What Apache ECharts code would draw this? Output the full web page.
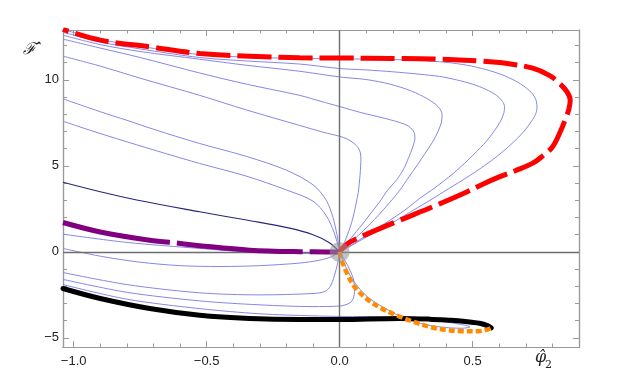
<!DOCTYPE html>
<html><head><meta charset="utf-8">
<script src="https://cdn.jsdelivr.net/npm/echarts@6/dist/echarts.min.js"></script>
<style>html,body{margin:0;padding:0;background:#fff}#c{width:636px;height:385px}</style>
</head><body><div id="c"></div>
<script>
// ---------- axis ranges and ticks ----------
const X_MIN = -1.04, X_MAX = 0.9;
const Y_MIN = -5.53, Y_MAX = 12.9;
const xMajorTicks = [-1, -0.5, 0, 0.5];
const xMinorTicks = [-1.0,-0.9,-0.8,-0.7,-0.6,-0.5,-0.4,-0.3,-0.2,-0.1,0,0.1,0.2,0.3,0.4,0.5,0.6,0.7,0.8];
const yMajorTicks = [-5, 0, 5, 10];
const yMinorTicks = [-5,-4,-3,-2,-1,0,1,2,3,4,5,6,7,8,9,10,11,12];

// ---------- thick curves ----------
const redCurve = [[-1.04,12.93],[-0.9,12.31],[-0.714,11.92],[-0.526,11.53],[-0.338,11.38],[-0.15,11.28],[0,11.27],[0.2,11.25],[0.35,11.22],[0.53,11.09],[0.63,10.95],[0.726,10.68],[0.79,10.25],[0.827,9.79],[0.855,9.3],[0.867,8.82],[0.862,8.3],[0.852,7.85],[0.83,7.0],[0.80,6.1],[0.765,5.6],[0.726,5.16],[0.66,4.72],[0.60,4.36],[0.54,3.95],[0.48,3.5],[0.35,2.62],[0.226,1.84],[0.1,1.02],[0.04,0.58],[0.015,0.28],[0,0]];
const purpleCurve = [[-1.04,1.71],[-0.9,1.16],[-0.714,0.68],[-0.598,0.49],[-0.526,0.36],[-0.338,0.1],[-0.15,0.01],[-0.05,0.0],[0,0]];
const blackCurve = [[-1.04,-2.13],[-0.9,-2.71],[-0.714,-3.29],[-0.526,-3.68],[-0.338,-3.87],[-0.15,-3.93],[0,-3.93],[0.226,-3.87],[0.338,-3.91],[0.41,-3.97],[0.464,-4.03],[0.526,-4.15],[0.558,-4.3],[0.57,-4.42]];
const orangeCurve = [[0,0],[0.006,-0.4],[0.025,-1.15],[0.056,-2.03],[0.1,-2.71],[0.15,-3.22],[0.213,-3.68],[0.276,-4.05],[0.345,-4.38],[0.40,-4.53],[0.46,-4.61],[0.52,-4.61],[0.555,-4.52],[0.57,-4.42]];
const navyCurve = [[-1.04,4.05],[-0.9,3.5],[-0.758,3.0],[-0.526,2.33],[-0.35,1.85],[-0.188,1.38],[-0.1,1.0],[-0.04,0.55],[0,0]];
const fixedPoint = [[0,0]];

// ---------- thin flow lines ----------
const flowA = [[-1.04,12.93],[-0.9,12.35],[-0.75,11.95],[-0.526,11.47],[-0.35,11.32],[-0.15,11.25],[0,11.22],[0.15,11.2],[0.3,11.13],[0.4,11.02],[0.48,10.85],[0.55,10.6],[0.61,10.3],[0.66,9.95],[0.7,9.55],[0.727,9.15],[0.74,8.75],[0.742,8.35],[0.735,7.95],[0.715,7.45],[0.69,6.95],[0.655,6.4],[0.615,5.85],[0.57,5.3],[0.52,4.75],[0.46,4.15],[0.40,3.58],[0.34,3.0],[0.28,2.45],[0.21,1.8],[0.14,1.2],[0.08,0.68],[0.035,0.28],[0,0]];
const flowB = [[-1.04,12.78],[-0.9,12.2],[-0.75,11.8],[-0.526,11.3],[-0.35,11.1],[-0.15,10.92],[0,10.66],[0.1,10.58],[0.2,10.47],[0.3,10.33],[0.376,10.2],[0.44,10.0],[0.5,9.75],[0.55,9.45],[0.59,9.1],[0.612,8.75],[0.62,8.45],[0.618,8.1],[0.605,7.6],[0.58,7.0],[0.55,6.4],[0.51,5.75],[0.47,5.15],[0.43,4.6],[0.39,4.1],[0.345,3.58],[0.3,3.1],[0.26,2.6],[0.2,1.95],[0.14,1.35],[0.09,0.85],[0.045,0.4],[0,0]];
const flowC = [[-1.04,12.6],[-0.9,12.05],[-0.75,11.65],[-0.526,11.2],[-0.35,10.85],[-0.15,10.5],[0,10.17],[0.1,10.02],[0.19,9.75],[0.27,9.35],[0.33,8.9],[0.37,8.45],[0.385,8.0],[0.383,7.55],[0.37,7.0],[0.35,6.4],[0.32,5.7],[0.29,5.0],[0.26,4.35],[0.226,3.58],[0.19,2.9],[0.15,2.2],[0.11,1.55],[0.07,0.95],[0.035,0.45],[0,0]];
const flowD = [[-1.04,12.37],[-0.9,11.85],[-0.75,11.3],[-0.526,10.4],[-0.35,9.75],[-0.15,9.1],[-0.07,8.75],[0,8.45],[0.08,8.1],[0.16,7.8],[0.22,7.55],[0.26,7.3],[0.28,6.95],[0.283,6.6],[0.275,6.1],[0.26,5.5],[0.24,4.8],[0.215,4.2],[0.18,3.58],[0.15,2.9],[0.115,2.2],[0.08,1.5],[0.045,0.85],[0.018,0.33],[0,0]];
const flowE = [[-1.04,11.38],[-0.9,10.8],[-0.75,10.1],[-0.526,9.1],[-0.35,8.25],[-0.15,7.35],[-0.06,6.95],[0,6.72],[0.03,6.55],[0.055,6.3],[0.07,6.05],[0.078,5.75],[0.08,5.4],[0.079,5.0],[0.077,4.5],[0.074,4.0],[0.07,3.45],[0.063,2.9],[0.055,2.3],[0.045,1.7],[0.032,1.1],[0.018,0.55],[0.006,0.18],[0,0]];
const flowF = [[-1.04,8.9],[-0.9,8.15],[-0.8,7.65],[-0.69,7.08],[-0.526,6.3],[-0.35,5.55],[-0.2,4.75],[-0.1,3.9],[-0.05,3.0],[-0.025,2.0],[-0.01,1.0],[0,0]];
const flowG = [[-1.04,7.6],[-0.94,7.08],[-0.8,6.4],[-0.65,5.7],[-0.526,5.14],[-0.35,4.4],[-0.2,3.6],[-0.1,2.95],[-0.05,2.1],[-0.02,1.1],[0,0]];
const flowM1 = [[-1.04,1.03],[-0.8,0.55],[-0.526,0.2],[-0.35,0.0],[-0.2,-0.08],[-0.075,-0.1],[-0.03,-0.06],[0,0]];
const flowM2 = [[-1.04,0.2],[-0.9,-0.25],[-0.75,-0.6],[-0.6,-0.8],[-0.45,-0.85],[-0.3,-0.8],[-0.15,-0.65],[-0.075,-0.48],[-0.03,-0.28],[0,0]];
const flowM3 = [[-1.04,-1.2],[-0.8,-1.9],[-0.526,-2.38],[-0.3,-2.5],[-0.1,-2.42],[-0.055,-2.3],[-0.035,-2.0],[-0.02,-1.4],[-0.008,-0.7],[0,0]];
const flowM4 = [[-1.04,-1.6],[-0.8,-2.35],[-0.526,-2.85],[-0.3,-3.08],[-0.1,-3.18],[0,-3.15],[0.044,-2.9],[0.056,-2.3],[0.053,-1.65],[0.04,-1.1],[0.019,-0.48],[0,0]];
const flowM5 = [[-1.04,-1.9],[-0.8,-2.75],[-0.526,-3.3],[-0.3,-3.6],[-0.1,-3.72],[0,-3.75],[0.2,-3.79],[0.3,-3.9],[0.38,-4.04],[0.45,-4.2],[0.49,-4.36],[0.46,-4.44],[0.4,-4.4],[0.33,-4.25],[0.28,-4.05],[0.225,-3.72],[0.162,-3.2],[0.11,-2.68],[0.068,-2.02],[0.033,-1.2],[0.011,-0.45],[0,0]];
const flowLines = [flowA, flowB, flowC, flowD, flowE, flowF, flowG, flowM1, flowM2, flowM3, flowM4, flowM5];

// ---------- styling ----------
const FRAME = '#9a9a9a';
const BLUE = 'rgb(135,135,232)';
const fmtX = v => (v < 0 ? '\u2212' : '') + Math.abs(v).toFixed(1);
const fmtY = v => (v < 0 ? '\u2212' : '') + Math.abs(v);

function xAx(pos, ticks, len, labels) {
  return {
    type: 'value', min: X_MIN, max: X_MAX, position: pos,
    axisLine: { show: true, onZero: false, lineStyle: { color: FRAME, width: 1.2 } },
    axisTick: { show: true, inside: true, length: len, customValues: ticks, lineStyle: { color: FRAME, width: 1 } },
    axisLabel: labels ? { show: true, customValues: xMajorTicks, formatter: fmtX, margin: 8, color: '#222', fontSize: 13, fontFamily: 'Liberation Sans' } : { show: false },
    splitLine: { show: false }
  };
}
function yAx(pos, ticks, len, labels) {
  return {
    type: 'value', min: Y_MIN, max: Y_MAX, position: pos,
    axisLine: { show: true, onZero: false, lineStyle: { color: FRAME, width: 1.2 } },
    axisTick: { show: true, inside: true, length: len, customValues: ticks, lineStyle: { color: FRAME, width: 1 } },
    axisLabel: labels ? { show: true, customValues: yMajorTicks, formatter: fmtY, margin: 4, color: '#222', fontSize: 13, fontFamily: 'Liberation Sans' } : { show: false },
    splitLine: { show: false }
  };
}

const series = [];
flowLines.forEach((d, i) => {
  const s = {
    type: 'line', data: d, xAxisIndex: 0, yAxisIndex: 0, showSymbol: false, symbol: 'none',
    smooth: 0.3, lineStyle: { color: BLUE, width: 1 }, z: 3, silent: true
  };
  if (i === 0) {
    s.markLine = {
      silent: true, symbol: 'none', label: { show: false }, animation: false,
      lineStyle: { color: '#6e6e6e', width: 1.4, type: 'solid' },
      data: [{ xAxis: 0 }, { yAxis: 0 }]
    };
  }
  series.push(s);
});
series.push({ type: 'line', data: navyCurve, showSymbol: false, symbol: 'none', smooth: 0.35, lineStyle: { color: 'rgb(38,38,120)', width: 1.1 }, z: 4 });
series.push({ type: 'line', data: purpleCurve, showSymbol: false, symbol: 'none', smooth: 0.35, lineStyle: { color: 'rgb(128,0,128)', width: 5, type: [126, 7], dashOffset: 17, cap: 'butt' }, z: 5 });
series.push({ type: 'line', data: redCurve, showSymbol: false, symbol: 'none', smooth: 0.35, lineStyle: { color: '#ff0000', width: 5, type: [34, 7], dashOffset: 28, cap: 'butt' }, z: 5 });
series.push({ type: 'line', data: blackCurve, showSymbol: false, symbol: 'none', smooth: 0.35, lineStyle: { color: '#000', width: 5, cap: 'round' }, z: 5 });
series.push({ type: 'line', data: orangeCurve, showSymbol: false, symbol: 'none', smooth: 0.35, lineStyle: { color: 'rgb(255,140,0)', width: 4.5, type: [6, 3], cap: 'butt' }, z: 6 });
series.push({ type: 'scatter', data: fixedPoint, symbolSize: 20, itemStyle: { color: 'rgba(150,150,150,0.7)' }, z: 7 });

const chart = echarts.init(document.getElementById('c'), null, { renderer: 'canvas' });
chart.setOption({
  animation: false,
  backgroundColor: '#fff',
  grid: { left: 63, right: 57, top: 30, bottom: 38, containLabel: false },
  xAxis: [xAx('bottom', xMajorTicks, 6, true), xAx('bottom', xMinorTicks, 3.5, false), xAx('top', xMajorTicks, 6, false), xAx('top', xMinorTicks, 3.5, false)],
  yAxis: [yAx('left', yMajorTicks, 6, true), yAx('left', yMinorTicks, 4, false), yAx('right', yMajorTicks, 6, false), yAx('right', yMinorTicks, 4, false)],
  series: series,
  graphic: [
    { type: 'text', left: 23, top: 42, style: { text: '\u2131\u0302', font: 'italic 16px "DejaVu Serif"', fill: '#222' } },
    { type: 'text', left: 535, top: 350, style: { text: '\u03c6\u0302', font: 'italic 16px "DejaVu Serif"', fill: '#222' } },
    { type: 'text', left: 545, top: 360, style: { text: '2', font: '11px "DejaVu Serif"', fill: '#222' } }
  ]
});
</script>
</body></html>
